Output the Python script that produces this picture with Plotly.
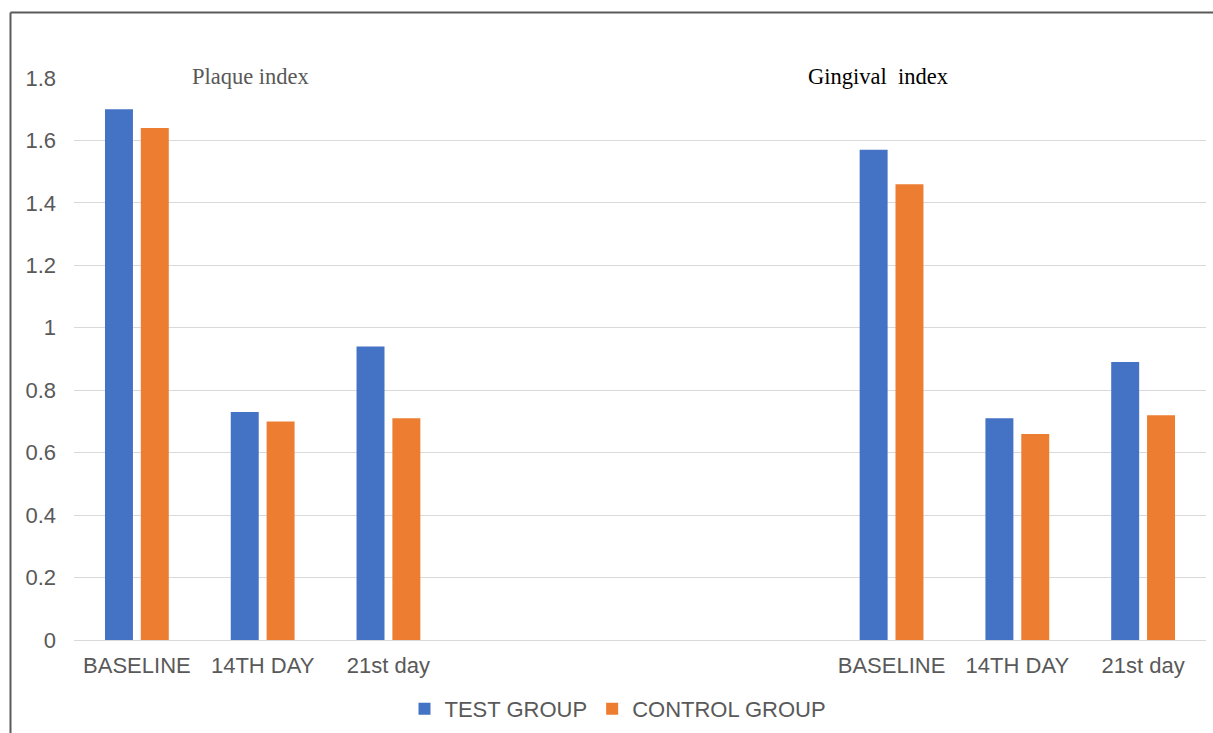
import plotly.graph_objects as go

# ---- data ----
categories = ["BASELINE", "14TH DAY", "21st day", "", "", "", "BASELINE", "14TH DAY", "21st day"]
test_group = [1.70, 0.73, 0.94, None, None, None, 1.57, 0.71, 0.89]
control_group = [1.64, 0.70, 0.71, None, None, None, 1.46, 0.66, 0.72]
y_ticks = [0, 0.2, 0.4, 0.6, 0.8, 1.0, 1.2, 1.4, 1.6, 1.8]
y_tick_labels = ["0", "0.2", "0.4", "0.6", "0.8", "1", "1.2", "1.4", "1.6", "1.8"]
series_names = ["TEST GROUP", "CONTROL GROUP"]
panel_titles = ["Plaque index", "Gingival\u00a0 index"]

W, H = 1213, 733
L, R, T, B = 74, 7, 78, 93
PW, PH = W - L - R, H - T - B

xs = list(range(len(categories)))

fig = go.Figure()
fig.add_trace(go.Bar(x=xs, y=test_group, name=series_names[0],
                     marker=dict(color="#4472C4", line=dict(width=0))))
fig.add_trace(go.Bar(x=xs, y=control_group, name=series_names[1],
                     marker=dict(color="#ED7D31", line=dict(width=0))))

def px_x(p):
    return (p - L) / PW

def px_y(p):
    return (H - B - p) / PH

fig.update_layout(
    width=W, height=H,
    margin=dict(l=L, r=R, t=T, b=B, autoexpand=False),
    paper_bgcolor="white", plot_bgcolor="white",
    barmode="group", bargap=0.43, bargroupgap=0.22,
    font=dict(family="Liberation Sans, Arial, sans-serif", size=22, color="#595959"),
    showlegend=True,
    legend=dict(orientation="h", x=px_x(618), xanchor="center",
                y=px_y(709), yanchor="middle",
                font=dict(size=22, color="#595959"),
                itemclick=False, tracegroupgap=0, bgcolor="rgba(0,0,0,0)"),
    xaxis=dict(range=[-0.5, len(categories) - 0.5], tickmode="array",
               tickvals=xs, ticktext=categories, showgrid=False,
               zeroline=False, showline=False, ticks="",
               ticklabelstandoff=10,
               tickfont=dict(size=22, color="#595959")),
    yaxis=dict(range=[0, 1.8], tickmode="array", tickvals=y_ticks,
               ticktext=y_tick_labels, showgrid=True, gridcolor="#d9d9d9",
               gridwidth=1, zeroline=True, zerolinecolor="#d9d9d9",
               zerolinewidth=1, showline=False, ticks="",
               ticklabelstandoff=17,
               tickfont=dict(size=22, color="#595959")),
    annotations=[
        dict(text=panel_titles[0], xref="paper", yref="paper",
             x=px_x(250), y=px_y(77), xanchor="center", yanchor="middle",
             showarrow=False,
             font=dict(family="Liberation Serif, Times New Roman, serif", size=22.5, color="#595959")),
        dict(text=panel_titles[1], xref="paper", yref="paper",
             x=px_x(878), y=px_y(77), xanchor="center", yanchor="middle",
             showarrow=False,
             font=dict(family="Liberation Serif, Times New Roman, serif", size=22.5, color="#000000")),
    ],
    shapes=[
        dict(type="line", xref="paper", yref="paper",
             x0=px_x(10.5), x1=px_x(10.5), y0=px_y(12.5), y1=px_y(H + 5),
             line=dict(color="#5a5a5a", width=2)),
        dict(type="line", xref="paper", yref="paper",
             x0=px_x(10.5), x1=px_x(W + 5), y0=px_y(12.5), y1=px_y(12.5),
             line=dict(color="#5a5a5a", width=2)),
    ],
)

fig.write_html("out.html")
